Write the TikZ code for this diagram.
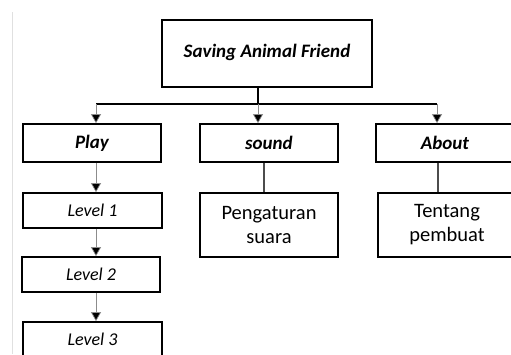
\documentclass[tikz,border=0pt]{standalone}
\usepackage{fontspec}
\setmainfont{Carlito}
\usetikzlibrary{arrows.meta,calc}
\begin{document}
\begin{tikzpicture}[x=1pt,y=-1pt,
  box/.style={draw=black,line width=1.7pt,fill=white,inner sep=0pt,minimum width=138pt,anchor=center},
  bus/.style={line width=1.5pt,black},
  thin/.style={line width=0.7pt,black!45},
  link/.style={line width=1.2pt,black!70},
  tip/.style={-{Triangle[width=10pt,length=9pt,fill=black]}},
  hfont/.style={font=\fontsize{19}{20}\selectfont\bfseries\itshape},
  lfont/.style={font=\fontsize{18}{20}\selectfont\itshape},
  nfont/.style={font=\fontsize{20.5}{24}\selectfont,align=center}]
\useasboundingbox (0,0) rectangle (511,354);
\draw[black!12,line width=0.8pt] (12,12) -- (12,354);
\node[box,hfont,minimum width=210pt,minimum height=67pt] (top) at (267,53.5) {\raisebox{5pt}{Saving Animal Friend}};
\node[box,hfont,minimum height=38pt] (play) at (92,143) {Play};
\node[box,hfont,minimum height=38pt] (sound) at (269,143) {sound};
\node[box,hfont,minimum height=38pt] (about) at (445,143) {About};
\node[box,lfont,minimum width=139pt,minimum height=35pt] (lv1) at (92.5,210.5) {Level 1};
\node[box,lfont,minimum height=35pt] (lv2) at (91,274.5) {Level 2};
\node[box,lfont,minimum width=139pt,minimum height=35pt] (lv3) at (92.5,339.5) {Level 3};
\node[box,nfont,minimum height=64pt] (peng) at (269,225) {Pengaturan\\suara};
\node[box,nfont,minimum height=64pt] (tent) at (447,225) {Tentang\\pembuat};
\coordinate (hub) at (258,104);
\draw[bus] ([xshift=-9pt]top.south) -- (hub);
\draw[bus] ([xshift=4pt]play.north |- hub) -- ([xshift=-8pt]about.north |- hub);
\draw[thin,tip] ([xshift=4pt]play.north |- hub) -- ([xshift=4pt]play.north);
\draw[thin,tip] (hub) -- (hub |- sound.north);
\draw[thin,tip] ([xshift=-8pt]about.north |- hub) -- ([xshift=-8pt]about.north);
\draw[thin,tip] ([xshift=4pt]play.south) -- ([xshift=4pt]play.south |- lv1.north);
\draw[thin,tip] ([xshift=4pt]play.south |- lv1.south) -- ([xshift=4pt]play.south |- lv2.north);
\draw[thin,tip] ([xshift=4pt]play.south |- lv2.south) -- ([xshift=4pt]play.south |- lv3.north);
\draw[link] ([xshift=-5pt]sound.south) -- ([xshift=-5pt]sound.south |- peng.north);
\draw[link] ([xshift=-7pt]about.south) -- ([xshift=-7pt]about.south |- tent.north);
\end{tikzpicture}
\end{document}
